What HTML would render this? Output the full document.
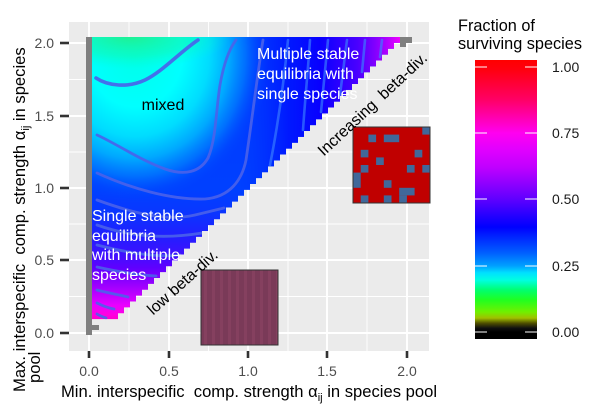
<!DOCTYPE html>
<html><head><meta charset="utf-8"><style>html,body{margin:0;padding:0;background:#fff;}svg{display:block}</style></head>
<body>
<svg width="616" height="411" viewBox="0 0 616 411" font-family="'Liberation Sans', Arial, sans-serif">
<defs>
  <clipPath id="tri">
    <path d="M92,37H400v5.878h-6v5.878h-6v5.878h-6v5.878h-6v5.878h-6v5.878h-6v5.878h-6v5.878h-6v5.878h-6v5.878h-6v5.878h-6v5.878h-6v5.878h-6v5.878h-6v5.878h-6v5.878h-6v5.878h-6v5.878h-6v5.878h-6v5.878h-6v5.878h-6v5.878h-6v5.878h-6v5.878h-6v5.878h-6v5.878h-6v5.878h-6v5.878h-6v5.878h-6v5.878h-6v5.878h-6v5.878h-6v5.878h-6v5.878h-6v5.878h-6v5.878h-6v5.878h-6v5.878h-6v5.878h-6v5.878h-6v5.878h-6v5.878h-6v5.878h-6v5.878h-6v5.878h-6v5.878h-6v5.878h-6v5.878h-6H92Z"/>
  </clipPath>
  <linearGradient id="vbase" gradientUnits="userSpaceOnUse" x1="0" y1="37" x2="0" y2="325">
    <stop offset="0" stop-color="#0038ff"/>
    <stop offset="0.531" stop-color="#0040ff"/>
    <stop offset="0.6" stop-color="#0838ff"/>
    <stop offset="0.6875" stop-color="#2020ff"/>
    <stop offset="0.757" stop-color="#4010ff"/>
    <stop offset="0.802" stop-color="#6000ff"/>
    <stop offset="0.851" stop-color="#9000ff"/>
    <stop offset="0.896" stop-color="#c000ff"/>
    <stop offset="0.93" stop-color="#e800ff"/>
    <stop offset="0.965" stop-color="#ff00e0"/>
    <stop offset="1" stop-color="#ff00b0"/>
  </linearGradient>
  <linearGradient id="hright" gradientUnits="userSpaceOnUse" x1="240" y1="0" x2="400" y2="0">
    <stop offset="0" stop-color="#0030ff" stop-opacity="0"/>
    <stop offset="0.3" stop-color="#0010ff" stop-opacity="0.8"/>
    <stop offset="0.5" stop-color="#0800ff"/>
    <stop offset="0.625" stop-color="#2c00ff"/>
    <stop offset="0.73" stop-color="#4800ff"/>
    <stop offset="0.78" stop-color="#6000ff"/>
    <stop offset="0.84" stop-color="#8000ff"/>
    <stop offset="0.906" stop-color="#a800ff"/>
    <stop offset="0.95" stop-color="#c800ff"/>
    <stop offset="1" stop-color="#f000ff"/>
  </linearGradient>
  <radialGradient id="blob">
    <stop offset="0" stop-color="#00ffe8"/>
    <stop offset="0.35" stop-color="#00ffff"/>
    <stop offset="0.55" stop-color="#00dcff"/>
    <stop offset="0.7" stop-color="#00a8ff"/>
    <stop offset="0.82" stop-color="#0078ff" stop-opacity="0.85"/>
    <stop offset="0.92" stop-color="#0050ff" stop-opacity="0.45"/>
    <stop offset="1" stop-color="#0040ff" stop-opacity="0"/>
  </radialGradient>
  <radialGradient id="grn">
    <stop offset="0" stop-color="#20f090" stop-opacity="0.95"/>
    <stop offset="0.6" stop-color="#10f8b0" stop-opacity="0.55"/>
    <stop offset="1" stop-color="#00ffd0" stop-opacity="0"/>
  </radialGradient>
  <linearGradient id="cbar" x1="0" y1="0" x2="0" y2="1">
    <stop offset="0" stop-color="#ff0000"/>
    <stop offset="0.036" stop-color="#ff0010"/>
    <stop offset="0.143" stop-color="#ff0066"/>
    <stop offset="0.262" stop-color="#ff00f0"/>
    <stop offset="0.323" stop-color="#e000ff"/>
    <stop offset="0.384" stop-color="#c000ff"/>
    <stop offset="0.441" stop-color="#9000ff"/>
    <stop offset="0.498" stop-color="#6000ff"/>
    <stop offset="0.563" stop-color="#2000ff"/>
    <stop offset="0.599" stop-color="#0000ff"/>
    <stop offset="0.645" stop-color="#0030ff"/>
    <stop offset="0.692" stop-color="#0060ff"/>
    <stop offset="0.738" stop-color="#00a0ff"/>
    <stop offset="0.763" stop-color="#00e0ff"/>
    <stop offset="0.789" stop-color="#00ffe0"/>
    <stop offset="0.824" stop-color="#00ff70"/>
    <stop offset="0.86" stop-color="#20ff20"/>
    <stop offset="0.903" stop-color="#70f000"/>
    <stop offset="0.925" stop-color="#a0c000"/>
    <stop offset="0.943" stop-color="#505000"/>
    <stop offset="0.961" stop-color="#101010"/>
    <stop offset="0.975" stop-color="#000000"/>
    <stop offset="1" stop-color="#000000"/>
  </linearGradient>
  <pattern id="pp" width="8" height="8" patternUnits="userSpaceOnUse">
    <rect width="8" height="8" fill="#7a3a58"/>
    <rect x="4" width="3" height="8" fill="#85405f"/>
  </pattern>
</defs>

<rect width="616" height="411" fill="#ffffff"/>

<!-- panel -->
<rect x="69" y="22" width="360" height="329" fill="#ebebeb"/>
<g stroke="#ffffff" stroke-width="0.9">
  <line x1="129" y1="22" x2="129" y2="351"/>
  <line x1="208.5" y1="22" x2="208.5" y2="351"/>
  <line x1="288" y1="22" x2="288" y2="351"/>
  <line x1="367" y1="22" x2="367" y2="351"/>
  <line x1="69" y1="79.5" x2="429" y2="79.5"/>
  <line x1="69" y1="152" x2="429" y2="152"/>
  <line x1="69" y1="224" x2="429" y2="224"/>
  <line x1="69" y1="296.5" x2="429" y2="296.5"/>
</g>
<g stroke="#ffffff" stroke-width="1.9">
  <line x1="89" y1="22" x2="89" y2="351"/>
  <line x1="169" y1="22" x2="169" y2="351"/>
  <line x1="248" y1="22" x2="248" y2="351"/>
  <line x1="327" y1="22" x2="327" y2="351"/>
  <line x1="407" y1="22" x2="407" y2="351"/>
  <line x1="69" y1="43" x2="429" y2="43"/>
  <line x1="69" y1="116" x2="429" y2="116"/>
  <line x1="69" y1="188" x2="429" y2="188"/>
  <line x1="69" y1="260" x2="429" y2="260"/>
  <line x1="69" y1="333" x2="429" y2="333"/>
</g>

<!-- heatmap -->
<g clip-path="url(#tri)">
  <rect x="92" y="37" width="308" height="288" fill="url(#vbase)"/>
  <rect x="240" y="37" width="160" height="200" fill="url(#hright)"/>
  <ellipse cx="135" cy="55" rx="135" ry="148" fill="url(#blob)"/>
  <ellipse cx="130" cy="37" rx="100" ry="32" fill="url(#grn)"/>
  <g fill="none" stroke="#4a62ea" stroke-opacity="0.9" stroke-linecap="round" stroke-width="2.8">
    <path d="M96,78 C108,86 128,88 145,80 S180,52 198,40" stroke-width="3.6"/>
    <path d="M97,135 C115,143 140,160 165,169 C185,176 200,172 208,158 C216,140 216,110 220,85 C224,62 230,48 236,40"/>
    <path d="M97,173 C130,188 170,200 205,199 C230,197 242,180 246,160 C252,120 258,70 263,40"/>
    <path d="M97,200 C130,212 165,222 195,215 L224,208"/>
    <path d="M97,225 C125,235 160,240 202,233"/>
    <path d="M97,245 C125,252 155,258 180,255"/>
    <path d="M97,267 C115,271 135,275 156,276"/>
    <path d="M97,290 C108,293 120,295 128,297"/>
    <path d="M97,303 C103,306 108,308 114,309"/>
    <path d="M97,314 C100,316 103,317 106,318"/>
  </g>
  <g fill="none" stroke="#3a80ff" stroke-opacity="0.65" stroke-linecap="round" stroke-width="2.6">
    <path d="M288,40 C284,80 278,125 270,165"/>
    <path d="M310,40 C308,70 305,100 303,130"/>
    <path d="M328,40 L321,112"/>
    <path d="M347,40 L340,95"/>
    <path d="M365,40 L362,72"/>
    <path d="M382,40 L380,57"/>
  </g>
</g>
<!-- gray NA tiles -->
<g fill="#7f7f7f">
  <rect x="86" y="37" width="6" height="298"/>
  <rect x="86" y="325" width="13" height="5"/>
  <rect x="400" y="37" width="12" height="6"/>
  <rect x="400" y="43" width="6" height="4"/>
</g>

<!-- inset 1 -->
<rect x="353" y="127" width="77" height="76" fill="#c00000"/>
<g fill="#40689a">
  <rect x="422.3" y="127" width="7.7" height="7.6"/>
  <rect x="368.4" y="134.6" width="7.7" height="7.6"/>
  <rect x="383.8" y="134.6" width="15.4" height="7.6"/>
  <rect x="360.7" y="149.8" width="7.7" height="7.6"/>
  <rect x="414.6" y="149.8" width="7.7" height="7.6"/>
  <rect x="376.1" y="157.4" width="7.7" height="7.6"/>
  <rect x="360.7" y="165" width="7.7" height="7.6"/>
  <rect x="406.9" y="165" width="7.7" height="7.6"/>
  <rect x="422.3" y="165" width="7.7" height="7.6"/>
  <rect x="353" y="172.6" width="7.7" height="15.2"/>
  <rect x="383.8" y="180.2" width="7.7" height="7.6"/>
  <rect x="399.2" y="187.8" width="15.4" height="7.6"/>
  <rect x="360.7" y="195.4" width="7.7" height="7.6"/>
  <rect x="383.8" y="195.4" width="7.7" height="7.6"/>
  <rect x="399.2" y="195.4" width="7.7" height="7.6"/>
</g>
<rect x="353" y="127" width="77" height="76" fill="none" stroke="#333" stroke-width="1"/>

<!-- inset 2 -->
<rect x="201" y="270" width="77" height="75" fill="url(#pp)" stroke="#333" stroke-width="1"/>

<!-- annotations -->
<text x="163" y="110" font-size="16" text-anchor="middle" fill="#000">mixed</text>
<g fill="#ffffff" font-size="16">
  <text x="257" y="59">Multiple stable</text>
  <text x="257" y="79">equilibria with</text>
  <text x="257" y="99">single species</text>
  <text x="92" y="221">Single stable</text>
  <text x="92" y="241">equilibria</text>
  <text x="92" y="260">with multiple</text>
  <text x="92" y="280">species</text>
</g>
<text transform="translate(186,286) rotate(-42)" text-anchor="middle" font-size="16" fill="#000">low beta-div.</text>
<text transform="translate(376,108) rotate(-43)" text-anchor="middle" font-size="16" fill="#000">Increasing&#160; beta-div.</text>

<!-- axes ticks -->
<g stroke="#333" stroke-width="2.6">
  <line x1="89" y1="351" x2="89" y2="358"/>
  <line x1="169" y1="351" x2="169" y2="358"/>
  <line x1="248" y1="351" x2="248" y2="358"/>
  <line x1="327" y1="351" x2="327" y2="358"/>
  <line x1="407" y1="351" x2="407" y2="358"/>
  <line x1="60" y1="43" x2="69" y2="43"/>
  <line x1="60" y1="116" x2="69" y2="116"/>
  <line x1="60" y1="188" x2="69" y2="188"/>
  <line x1="60" y1="260" x2="69" y2="260"/>
  <line x1="60" y1="333" x2="69" y2="333"/>
</g>
<g fill="#4d4d4d" font-size="14" text-anchor="middle">
  <text x="89" y="376">0.0</text>
  <text x="169" y="376">0.5</text>
  <text x="248" y="376">1.0</text>
  <text x="327" y="376">1.5</text>
  <text x="407" y="376">2.0</text>
</g>
<g fill="#4d4d4d" font-size="14" text-anchor="end">
  <text x="54" y="48">2.0</text>
  <text x="54" y="121">1.5</text>
  <text x="54" y="193">1.0</text>
  <text x="54" y="265">0.5</text>
  <text x="54" y="338">0.0</text>
</g>

<!-- axis titles -->
<text x="249" y="397" font-size="16.6" text-anchor="middle" fill="#000">Min. interspecific&#160; comp. strength α<tspan font-size="11" dy="4">ij</tspan><tspan dy="-4"> in species pool</tspan></text>
<text transform="translate(25,392) rotate(-90)" font-size="16.6" fill="#000">Max. interspecific&#160; comp. strength α<tspan font-size="11" dy="4">ij</tspan><tspan dy="-4"> in species</tspan></text>
<text transform="translate(40,383) rotate(-90)" font-size="16.6" fill="#000">pool</text>

<!-- legend -->
<text x="458" y="31" font-size="16.3" fill="#000">Fraction of</text>
<text x="458" y="49" font-size="16.3" fill="#000">surviving species</text>
<rect x="475" y="60" width="62" height="279" fill="url(#cbar)"/>
<g stroke="#ffffff" stroke-width="1">
  <line x1="475" y1="67" x2="487" y2="67"/><line x1="525" y1="67" x2="537" y2="67"/>
  <line x1="475" y1="133" x2="487" y2="133"/><line x1="525" y1="133" x2="537" y2="133"/>
  <line x1="475" y1="199" x2="487" y2="199"/><line x1="525" y1="199" x2="537" y2="199"/>
  <line x1="475" y1="266" x2="487" y2="266"/><line x1="525" y1="266" x2="537" y2="266"/>
  <line x1="475" y1="332" x2="487" y2="332"/><line x1="525" y1="332" x2="537" y2="332"/>
</g>
<g fill="#1a1a1a" font-size="14">
  <text x="552" y="72">1.00</text>
  <text x="552" y="138">0.75</text>
  <text x="552" y="204">0.50</text>
  <text x="552" y="271">0.25</text>
  <text x="552" y="337">0.00</text>
</g>
</svg>
</body></html>
